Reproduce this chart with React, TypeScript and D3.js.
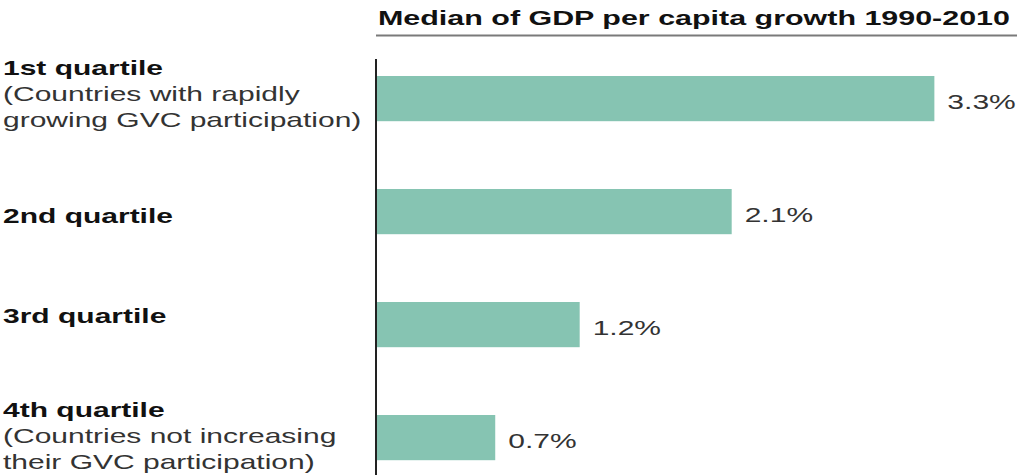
import React from "react";
import * as d3 from "d3";

const categories = ["1st quartile", "2nd quartile", "3rd quartile", "4th quartile"];
const subLabels: string[][] = [
  ["(Countries with rapidly", "growing GVC participation)"],
  [],
  [],
  ["(Countries not increasing", "their GVC participation)"],
];
const values = [3.3, 2.1, 1.2, 0.7];
const valueLabels = ["3.3%", "2.1%", "1.2%", "0.7%"];
const title = "Median of GDP per capita growth 1990-2010";

const W = 1017;
const H = 475;
const SX = 1.5;
const axisX = 376;
const labelNudge = [2.5, 11, -1.5, 5.5];

export default function App() {
  const x = d3.scaleLinear().domain([0, 3.3]).range([377, 377 + 168.9 * 3.3]);
  const y = d3
    .scaleBand<string>()
    .domain(categories)
    .range([42.1, 494.1])
    .paddingInner(0.6)
    .paddingOuter(0.3);
  const font = "'Liberation Sans', Arial, Helvetica, sans-serif";

  return (
    <svg
      width={W}
      height={H}
      style={{ position: "absolute", left: 0, top: 0, background: "#fff" }}
      fontFamily={font}
    >
      <rect width={W} height={H} fill="#fff" />
      <text
        transform={`translate(378,25) scale(1.45,1)`}
        fontSize={21}
        fontWeight="bold"
        fill="#111"
      >
        {title}
      </text>
      <line x1={axisX} x2={W} y1={35.5} y2={35.5} stroke="#7a7a7a" strokeWidth={2} />
      {categories.map((c, i) => {
        const y0 = y(c)!;
        const bw = y.bandwidth();
        const cy = y0 + bw / 2;
        const lines = subLabels[i];
        const nLines = 1 + lines.length;
        const midBase = cy + labelNudge[i];
        const firstBase = midBase - ((nLines - 1) / 2) * 26;
        return (
          <g key={c}>
            <rect x={x(0)} y={y0} width={x(values[i]) - x(0)} height={bw} fill="#86c4b2" />
            <text
              transform={`translate(${x(values[i]) + 13},${cy + 10.5}) scale(${SX},1)`}
              fontSize={20}
              fill="#333"
            >
              {valueLabels[i]}
            </text>
            <text
              transform={`translate(3,${firstBase}) scale(${SX},1)`}
              fontSize={20}
              fontWeight="bold"
              fill="#111"
            >
              {c}
            </text>
            {lines.map((l, j) => (
              <text
                key={j}
                transform={`translate(3,${firstBase + 26 * (j + 1)}) scale(${SX},1)`}
                fontSize={20}
                fill="#333"
              >
                {l}
              </text>
            ))}
          </g>
        );
      })}
      <line x1={axisX} x2={axisX} y1={59} y2={H} stroke="#222" strokeWidth={2} />
    </svg>
  );
}
